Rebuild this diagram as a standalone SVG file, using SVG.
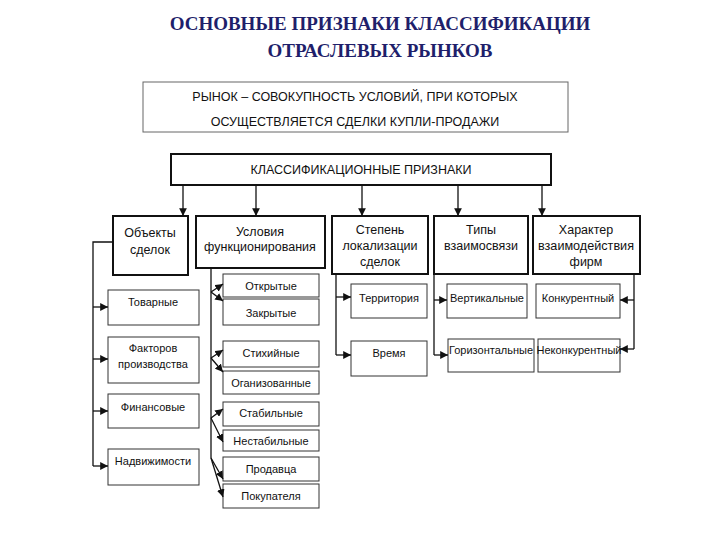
<svg xmlns="http://www.w3.org/2000/svg" width="720" height="540" viewBox="0 0 720 540">
<style>
.t{font-family:"Liberation Serif",serif;font-weight:bold;font-size:19px;fill:#1f1f6b;text-anchor:middle}
.c{font-family:"Liberation Sans",Arial,sans-serif;font-size:12.5px;fill:#111;text-anchor:middle}
.s{font-family:"Liberation Sans",Arial,sans-serif;font-size:11px;fill:#111;text-anchor:middle}
.b{fill:#fff;stroke:#111;stroke-width:2}
.n{fill:#fff;stroke:#333;stroke-width:1}
.l{fill:none;stroke:#111;stroke-width:1.3}
.l line{marker-end:url(#a)}
</style>
<defs><marker id="a" viewBox="0 0 10 10" refX="10" refY="5" markerWidth="6" markerHeight="6" orient="auto" markerUnits="strokeWidth"><path d="M0,0L10,5L0,10z" fill="#111" stroke="none"/></marker></defs>
<rect width="720" height="540" fill="#fff"/>
<text class="t" x="380" y="30">ОСНОВНЫЕ ПРИЗНАКИ КЛАССИФИКАЦИИ</text>
<text class="t" x="380" y="57">ОТРАСЛЕВЫХ РЫНКОВ</text>
<g id="def"><rect x="143" y="82" width="425" height="50" fill="#fff" stroke="#666"/><text class="c" x="355" y="101">РЫНОК – СОВОКУПНОСТЬ УСЛОВИЙ, ПРИ КОТОРЫХ</text><text class="c" x="355" y="126">ОСУЩЕСТВЛЯЕТСЯ СДЕЛКИ КУПЛИ-ПРОДАЖИ</text></g>
<g id="main"><rect class="b" x="171" y="154" width="380" height="31"/><text class="c" x="361" y="174">КЛАССИФИКАЦИОННЫЕ ПРИЗНАКИ</text></g>
<g id="cat1"><rect class="b" x="113" y="216" width="75" height="59"/><text class="c" x="150" y="237">Объекты</text><text class="c" x="150" y="254">сделок</text></g>
<g id="cat2"><rect class="b" x="196" y="216" width="129" height="52"/><text class="c" x="260" y="236">Условия</text><text class="c" x="260" y="251">функционирования</text></g>
<g id="cat3"><rect class="b" x="332" y="216" width="96" height="58"/><text class="c" x="380" y="234">Степень</text><text class="c" x="380" y="250">локализации</text><text class="c" x="380" y="266">сделок</text></g>
<g id="cat4"><rect class="b" x="434" y="216" width="94" height="58"/><text class="c" x="481" y="234">Типы</text><text class="c" x="481" y="250">взаимосвязи</text></g>
<g id="cat5"><rect class="b" x="533" y="216" width="107" height="58"/><text class="c" x="586" y="234">Характер</text><text class="c" x="586" y="250" textLength="96" lengthAdjust="spacingAndGlyphs">взаимодействия</text><text class="c" x="586" y="266">фирм</text></g>
<g id="o1"><rect class="n" x="108" y="290" width="91" height="35"/><text class="s" x="153" y="306">Товарные</text></g>
<g id="o2"><rect class="n" x="108" y="337" width="91" height="46"/><text class="s" x="153" y="352">Факторов</text><text class="s" x="153" y="368">производства</text></g>
<g id="o3"><rect class="n" x="108" y="394" width="91" height="34"/><text class="s" x="153" y="411">Финансовые</text></g>
<g id="o4"><rect class="n" x="108" y="449" width="91" height="36"/><text class="s" x="153" y="465">Надвижимости</text></g>
<g id="u1"><rect class="n" x="223" y="274" width="96" height="23"/><text class="s" x="271" y="290">Открытые</text></g>
<g id="u2"><rect class="n" x="223" y="299" width="96" height="26"/><text class="s" x="271" y="317">Закрытые</text></g>
<g id="u3"><rect class="n" x="223" y="341" width="96" height="26"/><text class="s" x="271" y="357">Стихийные</text></g>
<g id="u4"><rect class="n" x="223" y="371" width="96" height="23"/><text class="s" x="271" y="387">Оганизованные</text></g>
<g id="u5"><rect class="n" x="223" y="402" width="96" height="24"/><text class="s" x="271" y="417">Стабильные</text></g>
<g id="u6"><rect class="n" x="223" y="430" width="96" height="21"/><text class="s" x="271" y="445">Нестабильные</text></g>
<g id="u7"><rect class="n" x="223" y="457" width="96" height="24"/><text class="s" x="271" y="473">Продавца</text></g>
<g id="u8"><rect class="n" x="223" y="484" width="96" height="24"/><text class="s" x="271" y="500">Покупателя</text></g>
<g id="s1"><rect class="n" x="351" y="284" width="76" height="34"/><text class="s" x="389" y="302">Территория</text></g>
<g id="s2"><rect class="n" x="351" y="341" width="76" height="35"/><text class="s" x="389" y="357">Время</text></g>
<g id="t1"><rect class="n" x="447" y="284" width="80" height="34"/><text class="s" x="487" y="302">Вертикальные</text></g>
<g id="t2"><rect class="n" x="448" y="339" width="86" height="33"/><text class="s" x="491" y="354">Горизонтальные</text></g>
<g id="h1"><rect class="n" x="536" y="284" width="84" height="34"/><text class="s" x="578" y="302">Конкурентный</text></g>
<g id="h2"><rect class="n" x="538" y="339" width="82" height="33"/><text class="s" x="579" y="354">Неконкурентный</text></g>
<g id="connectors" class="l">
<line x1="183" y1="185" x2="183" y2="216"/><line x1="256" y1="185" x2="256" y2="216"/><line x1="362" y1="185" x2="362" y2="216"/><line x1="458" y1="185" x2="458" y2="216"/><line x1="542" y1="185" x2="542" y2="216"/>
<path d="M113,242H93V466"/>
<line x1="93" y1="307" x2="108" y2="307"/><line x1="93" y1="359" x2="108" y2="359"/><line x1="93" y1="411" x2="108" y2="411"/><line x1="93" y1="466" x2="108" y2="466"/>
<path d="M211,268V458"/>
<line x1="211" y1="292" x2="223" y2="284"/><line x1="211" y1="292" x2="223" y2="301"/><line x1="211" y1="358" x2="223" y2="350"/><line x1="211" y1="358" x2="223" y2="372"/><line x1="211" y1="418" x2="223" y2="409"/><line x1="211" y1="418" x2="223" y2="442"/><line x1="211" y1="458" x2="223" y2="479"/><line x1="211" y1="458" x2="223" y2="497"/>
<path d="M336,274V355"/>
<line x1="336" y1="297" x2="351" y2="297"/><line x1="336" y1="355" x2="351" y2="355"/>
<path d="M434,274V355"/>
<line x1="434" y1="300" x2="447" y2="300"/><line x1="434" y1="355" x2="448" y2="355"/>
<path d="M634,274V349"/>
<line x1="634" y1="300" x2="620" y2="300"/><line x1="634" y1="349" x2="620" y2="349"/>
</g>
</svg>
